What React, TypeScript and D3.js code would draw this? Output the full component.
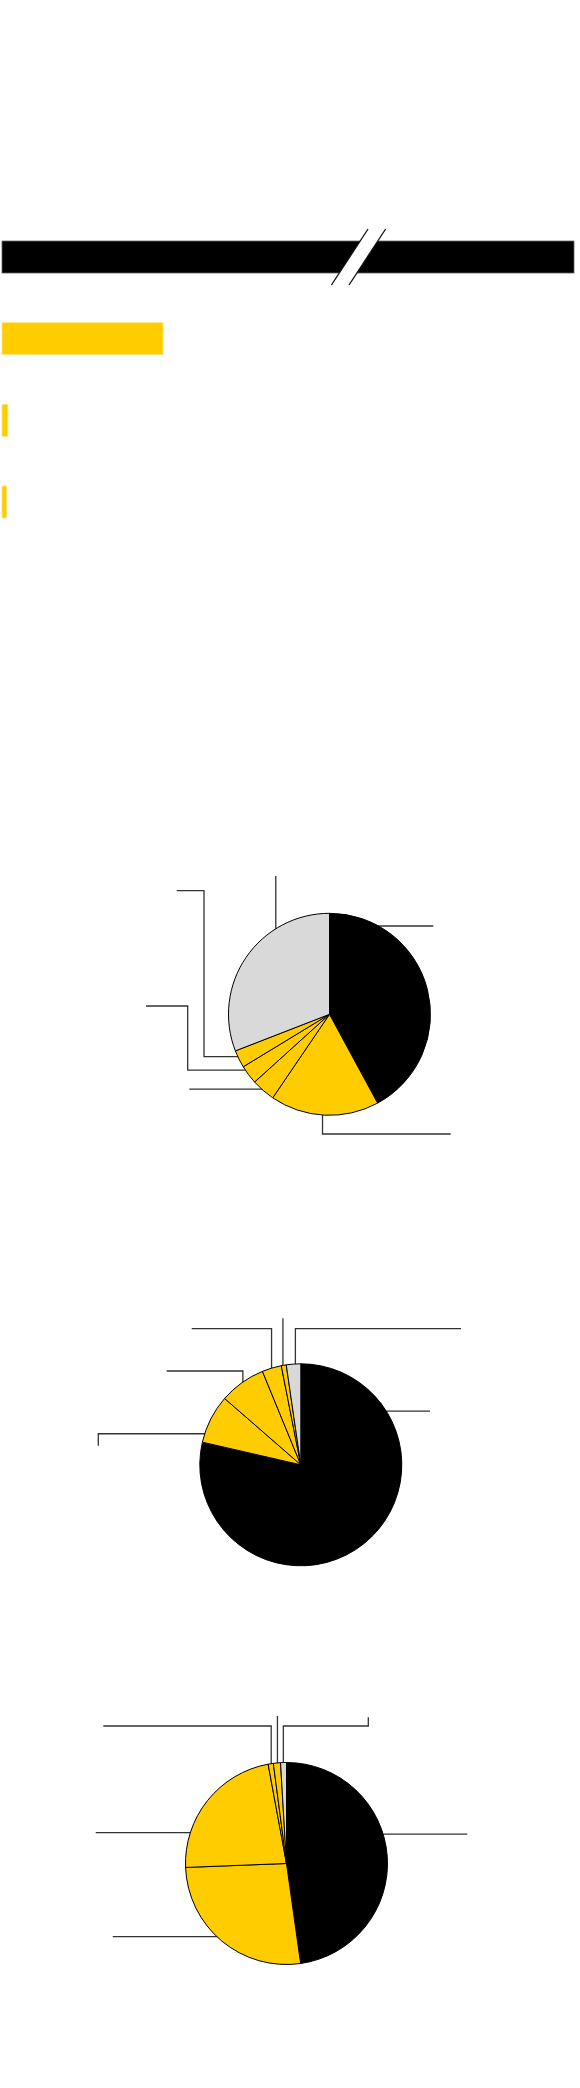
import { useEffect, useRef } from 'react'
import * as d3 from 'd3'

const W = 580
const H = 2088
const YELLOW = '#FFCC00'
const GRAY = '#D9D9D9'
const INK = '#000000'
const LEADER = '#333333'

// bar chart (first bar is cut by an axis break)
const barCats = ['b1', 'b2', 'b3', 'b4']
const barValues = [240, 29, 1.05, 0.85]
const barColors = [INK, YELLOW, YELLOW, YELLOW]
const barStrokes = ['#666666', '#FFE680', '#FFE680', '#FFE680']
const barAxisMax = 103
const barBreakAt = 64.2

// pies: black, four yellows, gray
const pieColors = [INK, YELLOW, YELLOW, YELLOW, YELLOW, GRAY]
const pie1Values = [42.1, 17.4, 3.8, 3.0, 2.8, 30.9]
const pie2Values = [78.6, 7.8, 7.4, 3.1, 0.8, 2.3]
const pie3Values = [47.75, 26.6, 22.7, 0.83, 1.14, 0.94]

// leader lines: anchor angle on the rim (deg, clockwise from top), then elbow steps relative to centre
type Step = ['h' | 'v', number]
const pie1Leaders: { angle: number; steps: Step[] }[] = [
  { angle: 28, steps: [['h', 103.8]] },
  { angle: 184, steps: [['v', 119.7], ['h', 121.2]] },
  { angle: 221.5, steps: [['h', -140.2]] },
  { angle: 236, steps: [['h', -141.8], ['v', -8.3], ['h', -183.5]] },
  { angle: 245, steps: [['h', -125.5], ['v', -123.6], ['h', -152.8]] },
  { angle: 327.5, steps: [['v', -138.3]] },
]
const pie2Leaders: { angle: number; steps: Step[] }[] = [
  { angle: 57.5, steps: [['h', 129.2]] },
  { angle: 288.1, steps: [['h', -202.5], ['v', -19.1]] },
  { angle: 324.6, steps: [['v', -93.8], ['h', -134.1]] },
  { angle: 343, steps: [['v', -136.1], ['h', -109.1]] },
  { angle: 349.7, steps: [['v', -146.5]] },
  { angle: 356.9, steps: [['v', -136.1], ['h', 160.2]] },
]
const pie3Leaders: { angle: number; steps: Step[] }[] = [
  { angle: 72.9, steps: [['h', 180.8]] },
  { angle: 223, steps: [['h', -173.8]] },
  { angle: 288, steps: [['h', -190.8]] },
  { angle: 351.2, steps: [['v', -137.5], ['h', -183.2]] },
  { angle: 354.8, steps: [['v', -147.5]] },
  { angle: 358.2, steps: [['v', -137.5], ['h', 81.8], ['v', -146.2]] },
]

const pies = [
  { values: pie1Values, leaders: pie1Leaders, cx: 329.5, cy: 1014.3 },
  { values: pie2Values, leaders: pie2Leaders, cx: 300.8, cy: 1464.8 },
  { values: pie3Values, leaders: pie3Leaders, cx: 286.5, cy: 1863.5 },
]
const R = 101

export default function App() {
  const ref = useRef<SVGSVGElement | null>(null)

  useEffect(() => {
    const svg = d3.select(ref.current)
    svg.selectAll('*').remove()

    // ---- bars
    const x = d3.scaleLinear().domain([0, barAxisMax]).range([2, 574]).clamp(true)
    const y = d3.scaleBand().domain(barCats).range([241, 518]).paddingInner(0.608).paddingOuter(0)
    const gb = svg.append('g')
    gb.selectAll('rect.bar')
      .data(barValues)
      .join('rect')
      .attr('class', 'bar')
      .attr('x', x(0))
      .attr('y', (_, i) => y(barCats[i]) || 0)
      .attr('width', d => x(d) - x(0))
      .attr('height', y.bandwidth())
      .attr('fill', (_, i) => barColors[i])
      .attr('stroke', (_, i) => barStrokes[i])
      .attr('stroke-width', 0.8)

    // axis break on the first bar
    const by0 = (y(barCats[0]) || 0) - 12
    const by1 = (y(barCats[0]) || 0) + y.bandwidth() + 12
    const bx = x(barBreakAt)
    const slant = 18.3
    const gap = 8.8
    const l1 = [[bx - gap - slant, by1], [bx - gap + slant, by0]]
    const l2 = [[bx + gap - slant, by1], [bx + gap + slant, by0]]
    gb.append('polygon')
      .attr('points', [...l1, l2[1], l2[0]].map(p => p.join(',')).join(' '))
      .attr('fill', '#fff')
    ;[l1, l2].forEach(l => {
      gb.append('line')
        .attr('x1', l[0][0]).attr('y1', l[0][1])
        .attr('x2', l[1][0]).attr('y2', l[1][1])
        .attr('stroke', '#111').attr('stroke-width', 1.3)
    })

    // ---- pies
    const pie = d3.pie<number>().sort(null).value(d => d)
    const arc = d3.arc<d3.PieArcDatum<number>>().innerRadius(0).outerRadius(R)
    pies.forEach(p => {
      const g = svg.append('g').attr('transform', `translate(${p.cx},${p.cy})`)

      // leaders first, pie drawn over them
      p.leaders.forEach(ld => {
        const a = (ld.angle * Math.PI) / 180
        let px = (R - 1) * Math.sin(a)
        let py = -(R - 1) * Math.cos(a)
        const pts: [number, number][] = [[px, py]]
        ld.steps.forEach(([k, v]) => {
          if (k === 'h') px = v
          else py = v
          pts.push([px, py])
        })
        g.append('path')
          .attr('d', d3.line()(pts))
          .attr('fill', 'none')
          .attr('stroke', LEADER)
          .attr('stroke-width', 1.3)
      })

      g.selectAll('path.slice')
        .data(pie(p.values))
        .join('path')
        .attr('class', 'slice')
        .attr('d', arc)
        .attr('fill', (_, i) => pieColors[i])
        .attr('stroke', INK)
        .attr('stroke-width', 1)
        .attr('stroke-linejoin', 'round')
    })
  }, [])

  return (
    <div style={{ position: 'absolute', left: 0, top: 0, width: W, height: H, background: '#fff' }}>
      <svg ref={ref} width={W} height={H} style={{ display: 'block' }} />
    </div>
  )
}
